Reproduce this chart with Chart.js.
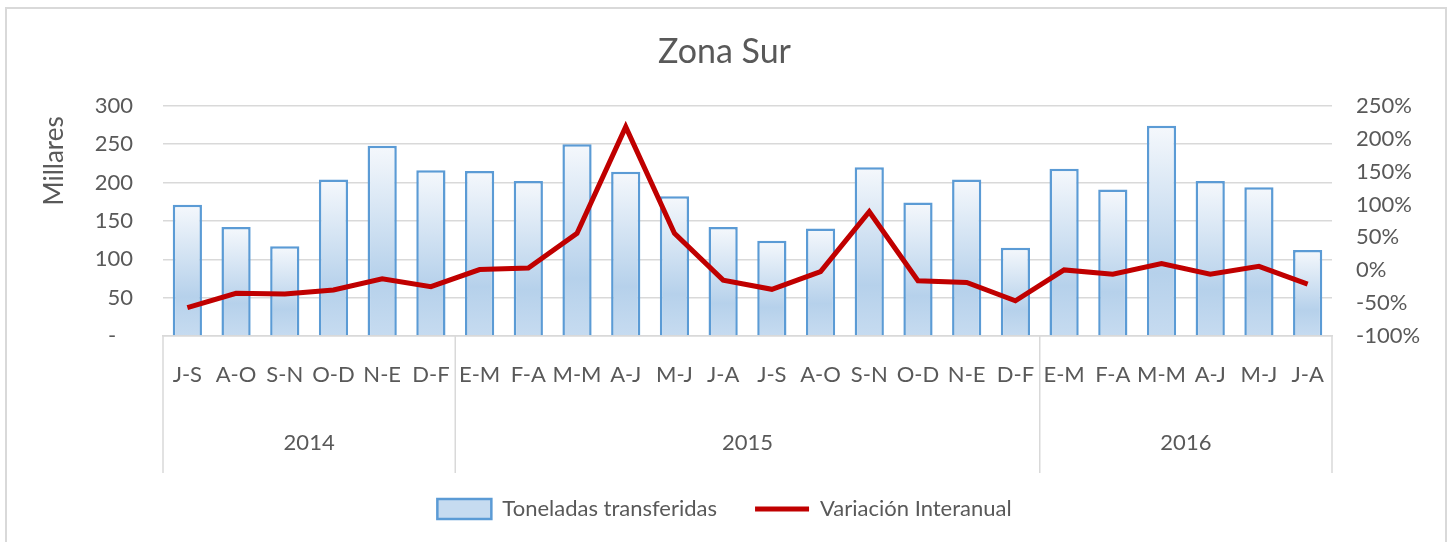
<!DOCTYPE html>
<html>
<head>
<meta charset="utf-8">
<script src="https://cdn.jsdelivr.net/npm/chart.js@4.4.1/dist/chart.umd.min.js"></script>
<style>
body{margin:0;background:#fff;}
canvas{position:absolute;left:0;top:0;}
#marco{position:absolute;left:5px;top:7px;width:1442px;height:560px;border:2px solid #d9d9d9;box-sizing:border-box;pointer-events:none;}
</style>
</head>
<body>
<canvas id="grafico" width="1449" height="542"></canvas>
<div id="marco"></div>
<script>
// datos
var meses = ["J-S","A-O","S-N","O-D","N-E","D-F",
             "E-M","F-A","M-M","A-J","M-J","J-A","J-S","A-O","S-N","O-D","N-E","D-F",
             "E-M","F-A","M-M","A-J","M-J","J-A"];
var anios = ["2014","2015","2016"];
var mesesPorAnio = [6,12,6];
var toneladas = [171,142,117,204,248,216,
                 215,202,250,214,182,142,124,140,220,174,204,115,
                 218,191,274,202,194,112];
var variacion = [-57,-35,-36,-30,-13,-25,
                 1,3.5,56,218,56,-15,-29,-2,89,-16,-18.5,-46.5,
                 0.5,-6,10,-6,6,-21];
var ejeIzq = {min:0, max:300, paso:50};
var ejeDer = {min:-100, max:250, paso:50};

var gris = '#595959';
var fuente = 'Lato, "Open Sans", sans-serif';

function degradado(c){
  var chart = c.chart;
  if (c.type !== 'data' || !chart.chartArea) return '#d2e2f4';
  var y = chart.scales.y;
  var arriba = y.getPixelForValue(c.raw);
  var abajo = y.getPixelForValue(0);
  var g = chart.ctx.createLinearGradient(0, arriba, 0, abajo);
  g.addColorStop(0, '#f5f8fc');
  g.addColorStop(0.7, '#b6d1eb');
  g.addColorStop(1, '#c6dbf0');
  return g;
}

// años debajo de los meses y lineas separadoras
var pluginAnios = {
  id: 'anios',
  afterDraw: function(chart){
    var ctx = chart.ctx;
    var x = chart.scales.x;
    var area = chart.chartArea;
    var mitad = (x.getPixelForValue(1) - x.getPixelForValue(0)) / 2;
    ctx.save();
    ctx.strokeStyle = '#d9d9d9';
    ctx.lineWidth = 1.5;
    ctx.fillStyle = gris;
    ctx.font = '22px ' + fuente;
    ctx.textAlign = 'center';
    ctx.textBaseline = 'middle';
    var inicio = 0;
    for (var i = 0; i <= anios.length; i++) {
      var px = x.getPixelForValue(inicio) - mitad;
      ctx.beginPath();
      ctx.moveTo(px, area.bottom);
      ctx.lineTo(px, area.bottom + 137);
      ctx.stroke();
      if (i < anios.length) {
        var fin = inicio + mesesPorAnio[i];
        var centro = (x.getPixelForValue(inicio) + x.getPixelForValue(fin - 1)) / 2;
        ctx.fillText(anios[i], centro, area.bottom + 107);
        inicio = fin;
      }
    }
    // titulo del eje izquierdo
    ctx.translate(63, (area.top + area.bottom) / 2 - 60);
    ctx.rotate(-Math.PI / 2);
    ctx.font = '26px ' + fuente;
    ctx.textBaseline = 'alphabetic';
    ctx.fillText('Millares', 0, 0);
    ctx.restore();
  }
};

var ctx = document.getElementById("grafico").getContext("2d");
var grafico = new Chart(ctx, {
  type: 'bar',
  data: {
    labels: meses,
    datasets: [
      {
        type: 'bar',
        label: 'Toneladas transferidas',
        data: toneladas,
        yAxisID: 'y',
        backgroundColor: degradado,
        borderColor: '#5b9bd5',
        borderWidth: 2.5,
        barPercentage: 0.6,
        categoryPercentage: 1,
        order: 1
      },
      {
        type: 'line',
        label: 'Variación Interanual',
        data: variacion,
        yAxisID: 'y1',
        borderColor: '#c00000',
        backgroundColor: '#c00000',
        borderWidth: 5,
        pointRadius: 0,
        tension: 0,
        order: 0
      }
    ]
  },
  options: {
    responsive: false,
    animation: false,
    layout: {padding: {top: 8, bottom: 12, left: 0, right: 0}},
    plugins: {
      title: {
        display: true,
        text: 'Zona Sur',
        color: gris,
        font: {family: fuente, size: 34, weight: 'normal'},
        padding: {top: 24, bottom: 33}
      },
      legend: {
        position: 'bottom',
        labels: {
          color: gris,
          font: {family: fuente, size: 22},
          usePointStyle: true,
          pointStyleWidth: 54,
          boxHeight: 20,
          padding: 38,
          sort: function(a, b){ return a.datasetIndex - b.datasetIndex; },
          generateLabels: function(chart){
            var items = Chart.defaults.plugins.legend.labels.generateLabels(chart);
            items.forEach(function(it){
              it.pointStyle = it.datasetIndex === 0 ? 'rect' : 'line';
            });
            return items;
          }
        }
      },
      tooltip: {enabled: false}
    },
    scales: {
      x: {
        offset: true,
        grid: {display: false, drawTicks: false},
        border: {display: true, color: '#d9d9d9', width: 1.5},
        ticks: {color: gris, font: {family: fuente, size: 22}, padding: 26, maxRotation: 0, autoSkip: false},
        afterFit: function(s){ s.height = 124; }
      },
      y: {
        position: 'left',
        min: ejeIzq.min,
        max: ejeIzq.max,
        grid: {color: '#d9d9d9', lineWidth: 1.5, drawTicks: false},
        border: {display: false},
        ticks: {
          stepSize: ejeIzq.paso,
          color: gris,
          font: {family: fuente, size: 22},
          padding: 30,
          callback: function(v){ return v === 0 ? '-   ' : v; }
        },
        afterFit: function(s){ s.width = 163; }
      },
      y1: {
        position: 'right',
        min: ejeDer.min,
        max: ejeDer.max,
        grid: {display: false, drawTicks: false},
        border: {display: false},
        ticks: {
          stepSize: ejeDer.paso,
          color: gris,
          font: {family: fuente, size: 22},
          padding: 24,
          callback: function(v){ return v + '%'; }
        },
        afterFit: function(s){ s.width = 117; }
      }
    }
  },
  plugins: [pluginAnios]
});
</script>
</body>
</html>
